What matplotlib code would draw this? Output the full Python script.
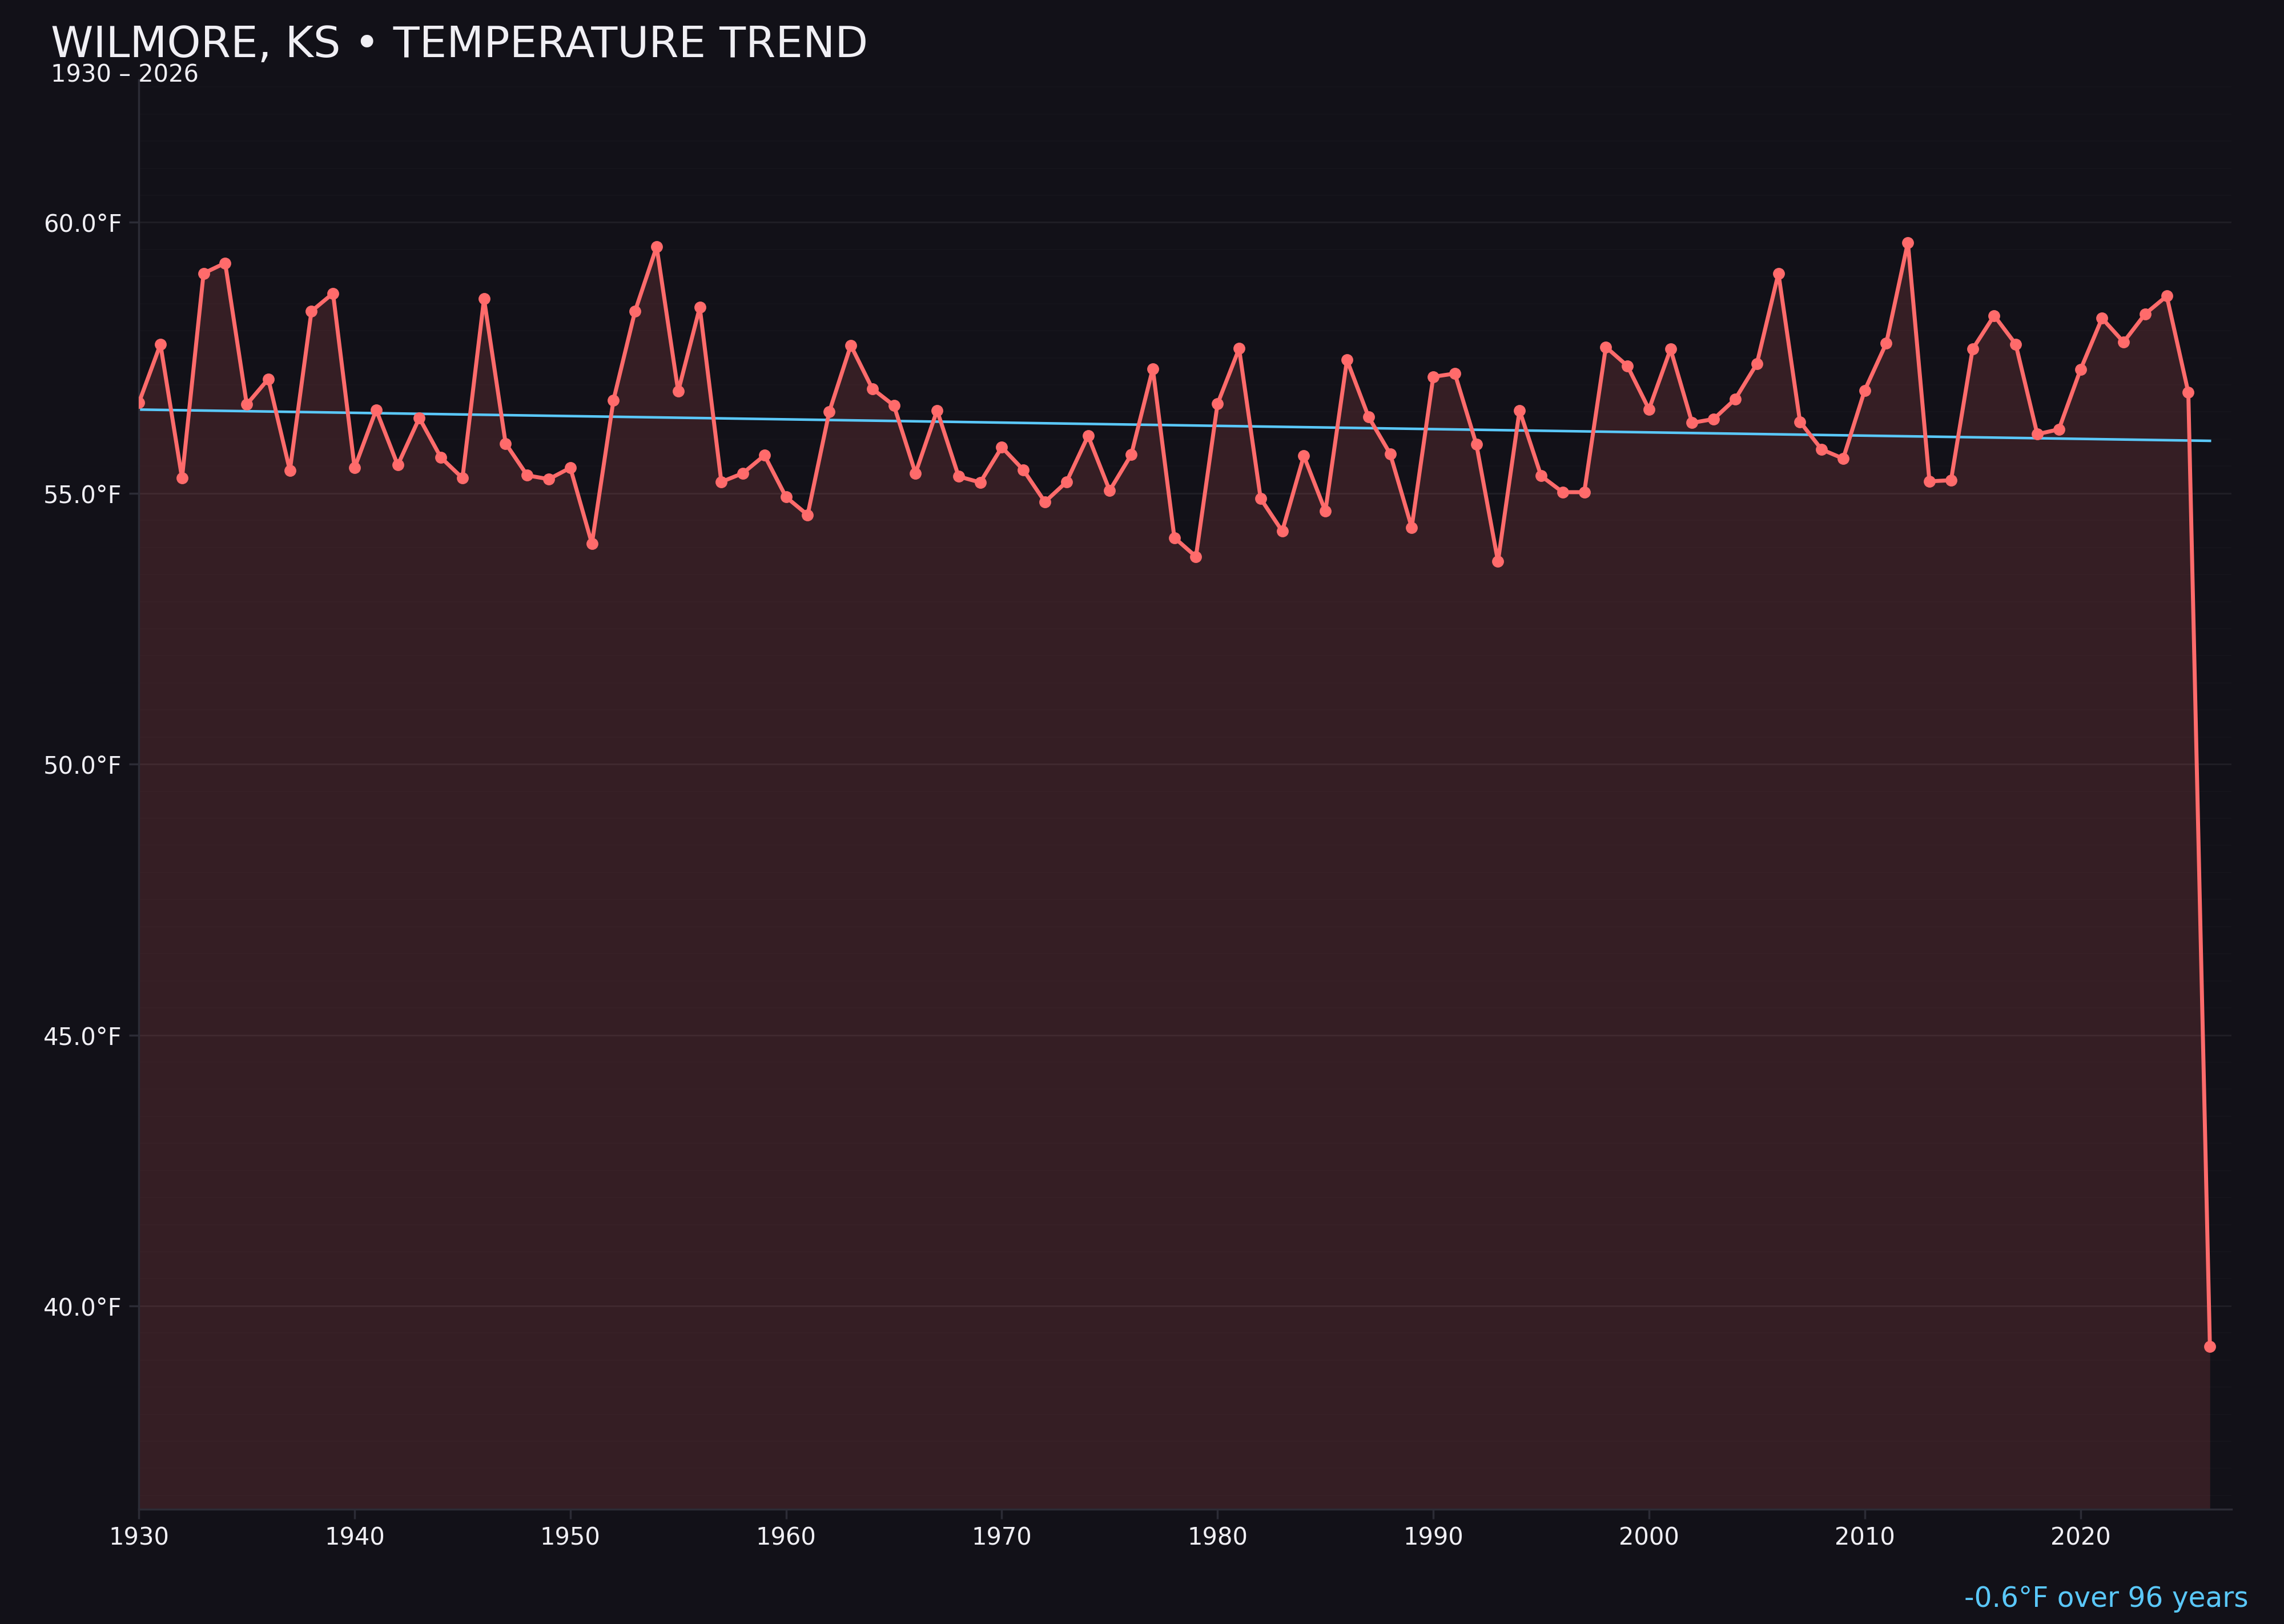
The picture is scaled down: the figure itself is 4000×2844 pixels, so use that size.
import numpy as np
import matplotlib
matplotlib.use('Agg')
import matplotlib.pyplot as plt
from matplotlib.ticker import MultipleLocator, FuncFormatter

# Datos: temperatura media anual (°F)
years = np.arange(1930, 2027)
temps = [
    56.67, 57.75, 55.28, 59.06, 59.25, 56.64, 57.11, 55.42, 58.36, 58.69,
    55.47, 56.54, 55.52, 56.39, 55.66, 55.28, 58.59, 55.92, 55.33, 55.26,
    55.47, 54.07, 56.72, 58.36, 59.55, 56.88, 58.43, 55.21, 55.37, 55.70,
    54.93, 54.60, 56.50, 57.73, 56.93, 56.62, 55.37, 56.53, 55.31, 55.20,
    55.85, 55.43, 54.84, 55.21, 56.06, 55.05, 55.71, 57.30, 54.18, 53.83,
    56.65, 57.67, 54.90, 54.30, 55.69, 54.67, 57.46, 56.41, 55.73, 54.37,
    57.15, 57.21, 55.90, 53.74, 56.53, 55.32, 55.02, 55.02, 57.70, 57.35,
    56.55, 57.66, 56.30, 56.37, 56.74, 57.39, 59.06, 56.32, 55.81, 55.64,
    56.90, 57.77, 59.63, 55.22, 55.24, 57.66, 58.28, 57.75, 56.09, 56.18,
    57.28, 58.23, 57.79, 58.31, 58.64, 56.86, 39.25,
]
temps = np.array(temps)

title = 'WILMORE, KS • TEMPERATURE TREND'
subtitle = '1930 – 2026'

# Colores
bg = '#121118'
line_color = '#ff6b6b'
trend_color = '#5ac8fa'
text_color = '#f0eff4'
spine_color = '#2c2c36'

# Tendencia lineal
coef = np.polyfit(years, temps, 1)
trend = np.polyval(coef, years)
cambio = trend[-1] - trend[0]
n_years = years[-1] - years[0]

fig = plt.figure(figsize=(16, 11.376), dpi=250, facecolor=bg)
ax = fig.add_axes([0.0608, 0.0708, 0.9162, 0.88])
ax.set_facecolor(bg)

ymin = temps.min() - 3
ymax = temps.max() + 3

ax.fill_between(years, temps, ymin, color=line_color, alpha=0.15,
                linewidth=0, zorder=1)
ax.plot(years, trend, color=trend_color, linewidth=1.3, zorder=2)
ax.plot(years, temps, color=line_color, linewidth=2, marker='o',
        markersize=5, zorder=3)

ax.set_xlim(1930, 2027)
ax.set_ylim(ymin, ymax)

ax.xaxis.set_major_locator(MultipleLocator(10))
ax.yaxis.set_major_locator(MultipleLocator(5))
ax.yaxis.set_minor_locator(MultipleLocator(0.5))
ax.yaxis.set_major_formatter(FuncFormatter(lambda v, p: f'{v:.1f}°F'))

ax.grid(axis='y', which='major', color='white', alpha=0.06, linewidth=0.9)
ax.grid(axis='y', which='minor', color='white', alpha=0.017, linewidth=0.7)
ax.set_axisbelow(True)

for s in ['top', 'right']:
    ax.spines[s].set_visible(False)
for s in ['left', 'bottom']:
    ax.spines[s].set_color(spine_color)
    ax.spines[s].set_linewidth(1)

ax.tick_params(axis='both', which='major', colors=spine_color,
               labelcolor=text_color, labelsize=12, length=5, width=1)
ax.tick_params(axis='y', which='minor', length=0)

fig.text(0.0222, 0.9648, title, color=text_color, fontsize=21.7,
         ha='left', va='baseline')
fig.text(0.0222, 0.9494, subtitle, color=text_color, fontsize=12,
         ha='left', va='baseline')
fig.text(0.9845, 0.0105, f'{cambio:+.1f}°F over {n_years} years'.replace('+', ''),
         color=trend_color, fontsize=14, ha='right', va='baseline')

fig.savefig('out.png', dpi=250, facecolor=bg)
